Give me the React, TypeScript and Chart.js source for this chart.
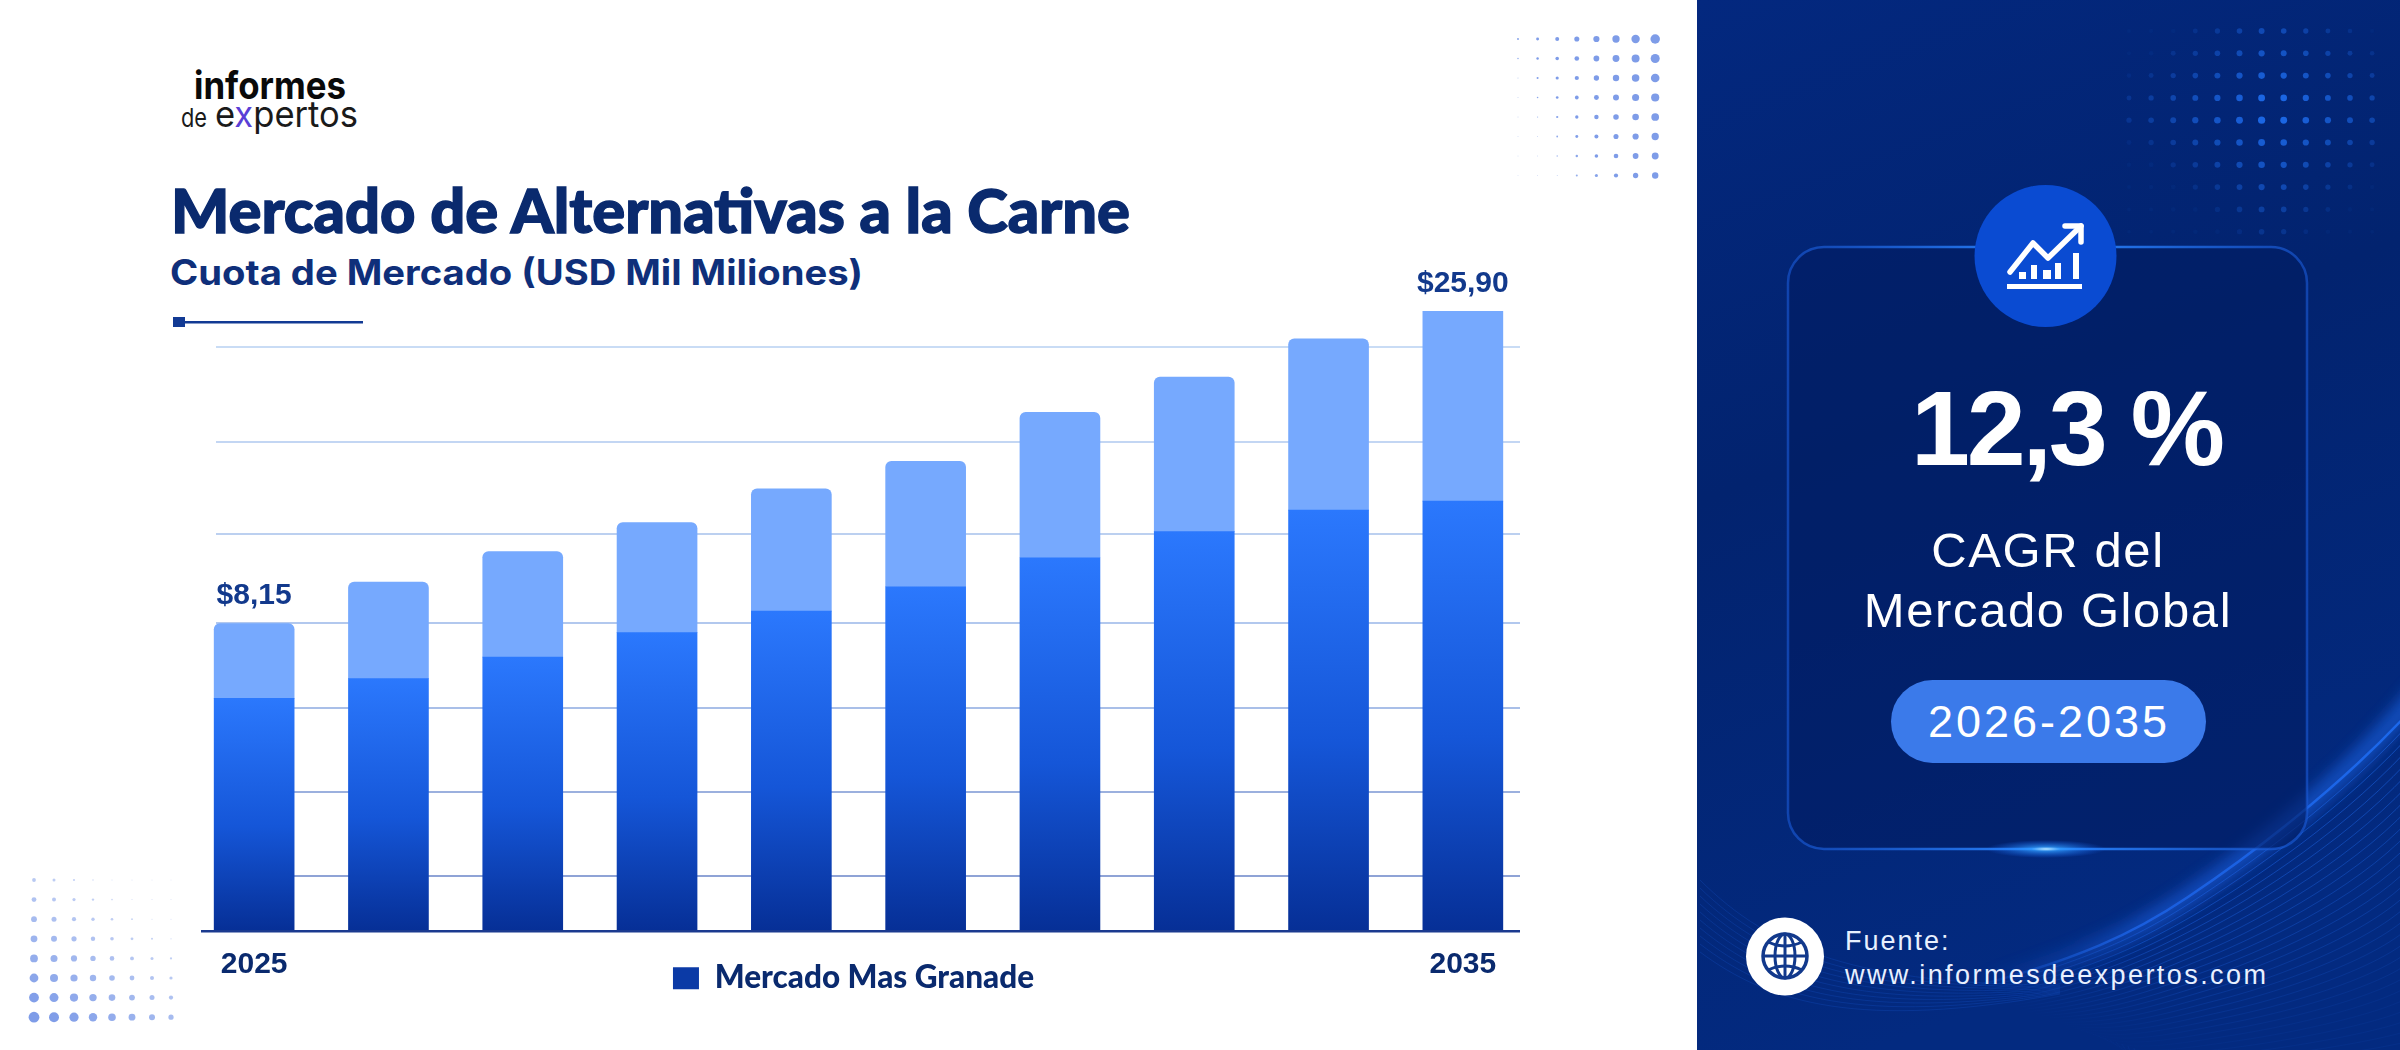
import { useEffect, useRef } from "react";
import { Chart, registerables } from "chart.js";

Chart.register(...registerables);

// bar heights, in units where the last bar's top is 25.9
const tickLabels = ["2025", "", "", "", "", "", "", "", "", "2035"];
const largestMarket = [9.72, 10.55, 11.45, 12.47, 13.37, 14.39, 15.6, 16.69, 17.59, 17.97];
const restOfMarket = [3.13, 4.03, 4.41, 4.6, 5.11, 5.24, 6.08, 6.46, 7.16, 7.93];
const totalLabels = ["$8,15", "", "", "", "", "", "", "", "", "$25,90"];
const gridValues = [2.29, 5.83, 9.34, 12.87, 16.6, 20.45, 24.39];
const gridColors = ["#8fa3d6", "#9bb0de", "#a9bfe8", "#b2c8ee", "#bcd0f0", "#c3d6f3", "#c9dcf5"];

const NAVY = "#0a2a6e";

const barRules = {
  id: "barRules",
  afterLayout(chart: any) {
    // the legend sits level with the year labels in the reference
    const { legend } = chart;
    legend.top -= 35.5;
    legend.bottom -= 35.5;
    legend.left -= 5;
    legend.right -= 5;
  },
  beforeDatasetsDraw(chart: any) {
    const { ctx, scales } = chart;
    ctx.save();
    gridValues.forEach((v, i) => {
      const y = Math.round(scales.y.getPixelForValue(v));
      ctx.fillStyle = gridColors[i];
      ctx.fillRect(216, y - 1, 1304, 2);
    });
    ctx.restore();
  },
  afterDatasetsDraw(chart: any) {
    const { ctx, scales } = chart;
    const top = chart.getDatasetMeta(1).data;
    ctx.save();
    ctx.fillStyle = "#1b3a8f";
    ctx.fillRect(201, scales.y.getPixelForValue(0) - 1, 1319, 2.5);
    ctx.fillStyle = "#12398c";
    ctx.font = "bold 30px 'Liberation Sans'";
    ctx.textAlign = "center";
    ctx.textBaseline = "middle";
    totalLabels.forEach((t, i) => {
      if (t) ctx.fillText(t, top[i].x, top[i].y - 28);
    });
    ctx.restore();
  },
};

function BarChart() {
  const canvasRef = useRef<HTMLCanvasElement | null>(null);

  useEffect(() => {
    if (!canvasRef.current) {
      return;
    }

    const chart = new Chart(canvasRef.current, {
      type: "bar",
      data: {
        labels: tickLabels,
        datasets: [
          {
            label: "Mercado Mas Granade",
            data: largestMarket,
            barThickness: 80,
            backgroundColor: (c: any) => {
              const y = c.chart.scales.y;
              if (!y || c.raw === undefined) return "#0c3ca8";
              const g = c.chart.ctx.createLinearGradient(0, y.getPixelForValue(c.raw), 0, y.getPixelForValue(0));
              g.addColorStop(0, "#2b78fd");
              g.addColorStop(0.55, "#1556d8");
              g.addColorStop(1, "#062f96");
              return g;
            },
          },
          {
            label: "Resto",
            data: restOfMarket,
            barThickness: 80,
            backgroundColor: "#76a9fe",
            borderRadius: (c: any) => (c.dataIndex === 9 ? 0 : { topLeft: 6, topRight: 6 }),
            borderSkipped: false,
          },
        ],
      },
      options: {
        animation: false,
        responsive: false,
        devicePixelRatio: 1,
        layout: { padding: { top: 285, left: 187, right: 167, bottom: 10.5 } },
        plugins: {
          tooltip: { enabled: false },
          legend: {
            position: "bottom",
            labels: {
              boxWidth: 26,
              boxHeight: 22,
              padding: 12,
              color: NAVY,
              font: { family: "Lato", weight: "900", size: 31.5 },
              generateLabels: () => [
                {
                  text: "Mercado Mas Granade",
                  fillStyle: "#0b3aa6",
                  strokeStyle: "#0b3aa6",
                  fontColor: NAVY,
                  lineWidth: 0,
                  datasetIndex: 0,
                },
              ],
            },
          },
        },
        scales: {
          x: {
            stacked: true,
            grid: { display: false },
            border: { display: false },
            ticks: {
              autoSkip: false,
              maxRotation: 0,
              padding: 8,
              color: NAVY,
              font: { family: "Liberation Sans", weight: "bold", size: 30 },
            },
            afterFit: (s: any) => {
              s.height = 55;
            },
          },
          y: { stacked: true, display: false, min: 0, max: 27 },
        },
      },
      plugins: [barRules],
    } as any);

    return () => {
      chart.destroy();
    };
  }, []);

  return (
    <canvas
      ref={canvasRef}
      width={1697}
      height={1050}
      style={{ position: "absolute", left: 0, top: 0, width: 1697, height: 1050 }}
    />
  );
}

// decorative dot fields, not data
function Dots({ xs, ys, r, fill, op }: { xs: number[]; ys: number[]; r: (i: number, j: number) => number; fill: string; op: (i: number, j: number) => number }) {
  return (
    <g fill={fill}>
      {ys.map((y, j) =>
        xs.map((x, i) => <circle key={`${i}-${j}`} cx={x} cy={y} r={r(i, j)} opacity={op(i, j)} />)
      )}
    </g>
  );
}

const range = (start: number, step: number, n: number) => Array.from({ length: n }, (_, i) => start + i * step);

function Backdrop() {
  const waves = range(0, 1, 30);
  return (
    <svg width={2400} height={1050} style={{ position: "absolute", left: 0, top: 0 }}>
      <defs>
        <linearGradient id="panel" x1="0" y1="0" x2="0.25" y2="1">
          <stop offset="0" stopColor="#03287f" />
          <stop offset="0.45" stopColor="#02236f" />
          <stop offset="1" stopColor="#032a80" />
        </linearGradient>
        <linearGradient id="cardLine" x1="0" y1="0" x2="1" y2="0">
          <stop offset="0" stopColor="#1a5ad8" stopOpacity="0.6" />
          <stop offset="0.5" stopColor="#2a86ff" />
          <stop offset="1" stopColor="#1a5ad8" stopOpacity="0.6" />
        </linearGradient>
        <radialGradient id="glow">
          <stop offset="0" stopColor="#bfeaff" />
          <stop offset="0.25" stopColor="#2f9bff" stopOpacity="0.75" />
          <stop offset="1" stopColor="#1a6cff" stopOpacity="0" />
        </radialGradient>
        <linearGradient id="wave" x1="1" y1="0" x2="0" y2="1">
          <stop offset="0" stopColor="#1d6bf0" />
          <stop offset="0.7" stopColor="#1a5fe0" />
          <stop offset="1" stopColor="#1a5fe0" stopOpacity="0" />
        </linearGradient>
        <filter id="soft" x="-20%" y="-20%" width="140%" height="140%">
          <feGaussianBlur stdDeviation="7" />
        </filter>
        <clipPath id="panelClip">
          <rect x={1697} y={0} width={703} height={1050} />
        </clipPath>
      </defs>

      <rect x={0} y={0} width={2400} height={1050} fill="#ffffff" />
      <rect x={1697} y={0} width={703} height={1050} fill="url(#panel)" />

      <g clipPath="url(#panelClip)" fill="none">
        <path d="M2420 690 C2340 790, 2240 862, 2188 897 S2080 960, 1980 985" stroke="url(#wave)" strokeWidth={20} opacity={0.55} filter="url(#soft)" />
        {waves.map((k) => (
          <path
            key={k}
            d={`M${2420} ${700 + k * 12} C${2340 + k * 3} ${790 + k * 9}, ${2240 + k * 3} ${862 + k * 7}, ${2188 + k * 2} ${897 + k * 6} S${2080 + k * 2} ${960 + k * 4}, ${1960 + k * 6} ${990 + k * 2}`}
            stroke="url(#wave)"
            strokeWidth={k === 0 ? 2.5 : 1}
            opacity={k === 0 ? 0.95 : Math.max(0.08, 0.55 - k * 0.02)}
          />
        ))}
        {range(0, 1, 10).map((k) => (
          <path
            key={k}
            d={`M${1700} ${880 + k * 8} C${1770} ${950 + k * 6}, ${1860} ${985 + k * 5}, ${2060} ${985 + k}`}
            stroke="#1a5fe0"
            strokeWidth={1}
            opacity={0.22}
          />
        ))}
      </g>

      <Dots
        xs={range(2129, 22.1, 12)}
        ys={range(31, 22.3, 10)}
        fill="#1f6ff2"
        r={(i, j) => Math.max(0.8, 3.6 - Math.abs(i - 6) * 0.16 - Math.abs(j - 4) * 0.16)}
        op={(i, j) => Math.max(0.05, 1 - Math.abs(i - 6.5) * 0.11 - Math.abs(j - 3.5) * 0.13)}
      />

      <rect x={1788} y={247} width={519} height={602} rx={36} fill="#021c62" fillOpacity={0.6} stroke="url(#cardLine)" strokeWidth={2.5} />
      <ellipse cx={2046} cy={849} rx={60} ry={9} fill="url(#glow)" />

      <circle cx={2045.5} cy={256} r={71} fill="#0a4bd2" />
      <g fill="none" stroke="#ffffff" strokeWidth={5.5} strokeLinecap="round" strokeLinejoin="round">
        <polyline points="2010,272 2033,243 2048,258 2081,226" />
        <polyline points="2065,226 2081,226 2081,242" />
      </g>
      <g fill="#ffffff">
        <rect x={2007} y={284} width={75} height={5} />
        <rect x={2019} y={272} width={7} height={7} />
        <rect x={2031} y={265} width={6} height={14} />
        <rect x={2043} y={270} width={8} height={9} />
        <rect x={2055} y={263} width={6} height={16} />
        <rect x={2073} y={253} width={6} height={26} />
      </g>

      <g fill="#ffffff" fontFamily="'Liberation Sans'">
        <text x={1911} y={465} fontSize={106} fontWeight={700} textLength={314} lengthAdjust="spacing">12,3 %</text>
        <text x={2048} y={567} fontSize={49} textAnchor="middle" letterSpacing={1.6}>CAGR del</text>
        <text x={2048} y={627} fontSize={49} textAnchor="middle" letterSpacing={1.6}>Mercado Global</text>
      </g>

      <rect x={1891} y={680} width={315} height={83} rx={41.5} fill="#3b7aea" />
      <text x={2049} y={737} fill="#ffffff" fontFamily="'Liberation Sans'" fontSize={45} textAnchor="middle" letterSpacing={3}>2026-2035</text>

      <circle cx={1785} cy={956.5} r={39} fill="#ffffff" />
      <g fill="none" stroke="#12398c" strokeWidth={3}>
        <circle cx={1785} cy={956} r={22} strokeWidth={3.5} />
        <ellipse cx={1785} cy={956} rx={10} ry={22} />
        <line x1={1785} y1={934} x2={1785} y2={978} />
        <line x1={1763} y1={956} x2={1807} y2={956} />
        <path d="M1768 942 Q1785 950 1802 942" />
        <path d="M1768 970 Q1785 962 1802 970" />
      </g>
      <g fill="#e8f0ff" fontFamily="'Liberation Sans'" fontSize={27}>
        <text x={1845} y={950} letterSpacing={2}>Fuente:</text>
        <text x={1845} y={984} textLength={421} lengthAdjust="spacing">www.informesdeexpertos.com</text>
      </g>

      <Dots
        xs={range(1518, 19.6, 8)}
        ys={range(39, 19.5, 8)}
        fill="#7e9ce8"
        r={(i, j) => Math.max(0.4, 0.9 + i * 0.55 - j * 0.22)}
        op={(i, j) => Math.min(1, 0.45 + i * 0.12 + (7 - j) * 0.08)}
      />
      <Dots
        xs={[34, 54, 74, 93, 112, 132, 152, 171]}
        ys={range(880, 19.6, 8)}
        fill="#7e9ce8"
        r={(i, j) => Math.max(0.5, 1.9 + j * 0.5 - i * 0.4)}
        op={(i, j) => Math.min(1, 0.55 + j * 0.07 - i * 0.05)}
      />

      <text x={194} y={99} fontFamily="Inter" fontWeight={700} fontSize={38} fill="#0a0a0a" textLength={152} lengthAdjust="spacingAndGlyphs">informes</text>
      <text x={181} y={127} fontFamily="Inter" fontSize={26} fill="#1a1a1a" textLength={26} lengthAdjust="spacingAndGlyphs">de</text>
      <text x={215} y={127} fontFamily="Inter" fontSize={36} fill="#1a1a1a" textLength={143} lengthAdjust="spacingAndGlyphs">
        e<tspan fill="#5a3fd6">x</tspan>pertos
      </text>

      <text x={171} y={233} fontFamily="Lato" fontWeight={900} fontSize={61} fill="#0a2a6e" stroke="#0a2a6e" strokeWidth={1.4} textLength={959} lengthAdjust="spacingAndGlyphs">Mercado de Alternativas a la Carne</text>
      <text x={170} y={285} fontFamily="Inter" fontWeight={700} fontSize={35} fill="#0f2f7a" textLength={693} lengthAdjust="spacingAndGlyphs">Cuota de Mercado (USD Mil Miliones)</text>

      <rect x={173} y={317} width={12} height={10} fill="#123a94" />
      <rect x={185} y={321} width={178} height={2.5} fill="#123a94" />
    </svg>
  );
}

export default function App() {
  return (
    <div style={{ position: "fixed", left: 0, top: 0, width: 2400, height: 1050, overflow: "hidden", background: "#fff" }}>
      <Backdrop />
      <BarChart />
    </div>
  );
}
